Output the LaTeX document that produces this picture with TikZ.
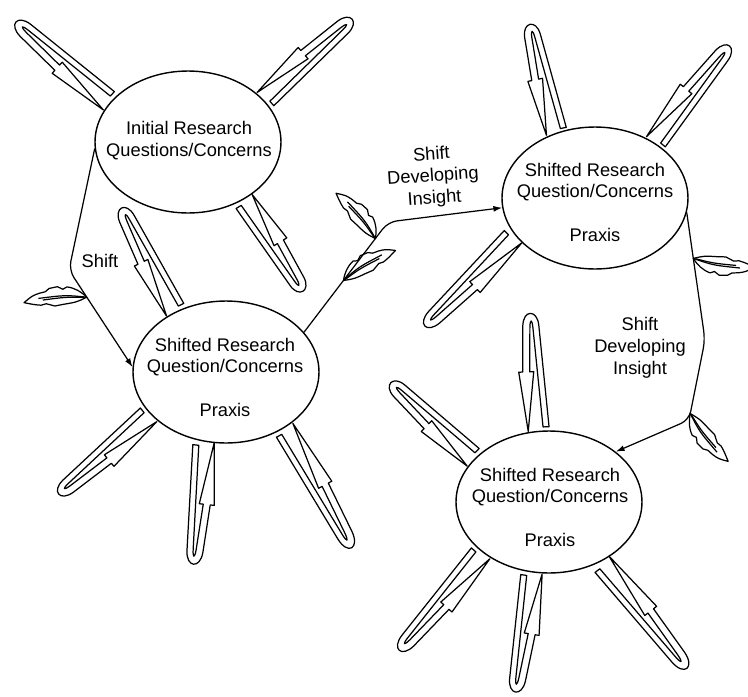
\documentclass[tikz,border=0pt]{standalone}
\usepackage{fontspec}
\setmainfont{Liberation Sans}
\usetikzlibrary{arrows.meta,shapes.geometric}

% hollow loop arrow: anchor, direction, length
\newcommand{\turnloop}[3]{%
  \begin{scope}[shift={(#1)}, rotate=#2, xscale=#3/125]
    \draw[cyc] (4,8) -- (4,14) -- (110,8) .. controls (127,7) and (127,-7) .. (110,-8)
      -- (62,-10) -- (62,-14) -- (0,-7) -- (62,1) -- (62,-3) -- (108,-1)
      .. controls (117,-0.5) and (117,1.5) .. (108,2) -- cycle;
  \end{scope}}

% leaf on a connector: point, direction, length, side
\newcommand{\sprout}[4]{%
  \begin{scope}[shift={(#1)}, rotate=#2, xscale=#3/60, yscale=#4]
    \draw[leafy] (0,0) .. controls (5,6) and (10,10) .. (18,12) -- (22,10) -- (27,13)
      -- (35,12) -- (39,9) -- (45,8) .. controls (52,6) .. (60,0)
      .. controls (50,-3) .. (44,-4) -- (39,-3) -- (31,-6) -- (22,-5)
      .. controls (10,-4) .. (0,0) -- cycle;
    \draw[leafy] (0,0) .. controls (20,4) .. (46,3);
    \draw[leafy] (2,0) .. controls (20,2) .. (42,1);
  \end{scope}}

\begin{document}
\begin{tikzpicture}[
  x=0.02cm, y=-0.02cm,
  stage/.style={draw, ellipse, line width=0.8pt, minimum width=3.72cm, minimum height=2.84cm, inner sep=0pt},
  txt/.style={font=\fontsize{10.4}{12.5}\selectfont, align=center, inner sep=0pt},
  flow/.style={draw, line width=0.7pt, rounded corners=5pt, -{Latex[length=5pt,width=3.4pt]}},
  cyc/.style={line width=0.7pt, line join=round},
  leafy/.style={line width=0.7pt, line join=round},
]
\useasboundingbox (0,0) rectangle (748,697);
\clip (0,0) rectangle (748,697);

% the four stages
\node[stage] (e1) at (188,142) {};
\node[stage] (e2) at (226,372) {};
\node[stage] (e3) at (595,198) {};
\node[stage] (e4) at (549,502) {};

\node[txt] (t1) at (189,141) {Initial Research\\Questions/Concerns};
\node[txt] (t2) at (225,377) {Shifted Research\\Question/Concerns\\[12pt]Praxis};
\node[txt] (t3) at (595,202) {Shifted Research\\Question/Concerns\\[12pt]Praxis};
\node[txt] (t4) at (550,507) {Shifted Research\\Question/Concerns\\[12pt]Praxis};

% connectors between stages
\coordinate (k1) at (69,270);
\coordinate (k2) at (388,222);
\coordinate (k3) at (705,340);
\coordinate (k4) at (689,420);

\draw[flow] (e1.184) -- (k1) -- coordinate[pos=0.28] (lf1) (e2.177);
\draw[flow] (e2.27.5) -- coordinate[pos=0.47] (lf3) coordinate[pos=0.85] (lf2) (k2) -- (e3.186);
\draw[flow] (e3.-9) -- coordinate[pos=0.36] (lf4) (k3) -- coordinate[pos=0.92] (lf5) (k4) -- (e4.37);

\node[txt] (l1) at (100,261) {Shift};
\node[txt, rotate=4] (l2) at (433,177) {Shift\\Developing\\Insight};
\node[txt] (l3) at (640,348) {Shift\\Developing\\Insight};

% leaves
\sprout{lf1}{185}{63}{1}
\sprout{lf2}{131}{60}{1}
\sprout{lf3}{30}{60}{-1}
\sprout{lf4}{-8}{62}{1}
\sprout{lf5}{-51.6}{61}{1}

% loops round each stage
\turnloop{e1.155}{138}{126}
\turnloop{e1.31}{41}{122}
\turnloop{e1.-44}{-58.6}{111}

\turnloop{e2.132}{116}{119}
\turnloop{e2.211}{219.7}{124}
\turnloop{e2.255}{263.6}{125}
\turnloop{e2.-42}{-61.8}{140}

\turnloop{e3.123}{102}{114}
\turnloop{e3.45}{50.8}{125}
\turnloop{e3.207}{223.8}{130}

\turnloop{e4.101}{92.4}{120}
\turnloop{e4.152}{136}{115}
\turnloop{e4.219}{228.4}{131}
\turnloop{e4.259}{-99.4}{123}
\turnloop{e4.313}{-52.3}{139}
\end{tikzpicture}
\end{document}
